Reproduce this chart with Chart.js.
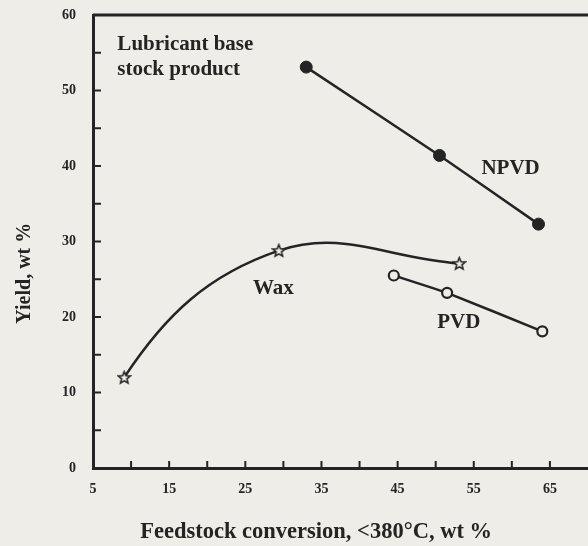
<!DOCTYPE html>
<html>
<head>
<meta charset="utf-8">
<script src="https://cdn.jsdelivr.net/npm/chart.js@4.4.0/dist/chart.umd.min.js"></script>
<style>
  html, body { margin: 0; padding: 0; background: #eeede7; overflow: hidden; }
  #chart { display: block; }
</style>
</head>
<body>
<canvas id="chart" width="588" height="546"></canvas>
<script>
(function() {
  'use strict';

  // ---- data ----
  const npvdX = [33, 50.5, 63.5];
  const npvdY = [53.1, 41.4, 32.3];
  const pvdX = [44.5, 51.5, 64];
  const pvdY = [25.5, 23.2, 18.1];
  const waxX = [9.1, 29.4, 53.1];
  const waxY = [12.0, 28.8, 27.1];

  const xLabels = [5, 15, 25, 35, 45, 55, 65];
  const yLabels = [0, 10, 20, 30, 40, 50, 60];

  // in-plot text, anchored in data units
  const notes = [
    { text: 'Lubricant base', x: 8.2, y: 55.4 },
    { text: 'stock product', x: 8.2, y: 52.0 },
    { text: 'NPVD', x: 56.0, y: 38.9 },
    { text: 'Wax', x: 26.0, y: 23.1 },
    { text: 'PVD', x: 50.2, y: 18.5 }
  ];

  const X_MAX = 70;
  const INK = '#242424';
  const PAPER = '#eeede7';
  const SERIF = '"Liberation Serif", "DejaVu Serif", serif';

  const pairs = (xs, ys) => xs.map((x, i) => ({ x: x, y: ys[i] }));

  // open five-point star marker
  function makeStar(size) {
    const c = document.createElement('canvas');
    c.width = size; c.height = size;
    const g = c.getContext('2d');
    const cx = size / 2, cy = size / 2 + 0.5;
    const ro = size / 2 - 1.2, ri = ro * 0.45;
    g.beginPath();
    for (let i = 0; i < 10; i++) {
      const r = i % 2 ? ri : ro;
      const a = -Math.PI / 2 + i * Math.PI / 5;
      const px = cx + r * Math.cos(a), py = cy + r * Math.sin(a);
      i ? g.lineTo(px, py) : g.moveTo(px, py);
    }
    g.closePath();
    g.fillStyle = PAPER;
    g.fill();
    g.lineWidth = 1.6;
    g.strokeStyle = INK;
    g.stroke();
    return c;
  }

  const paperBg = {
    id: 'paperBg',
    beforeDraw(chart) {
      const ctx = chart.ctx;
      ctx.save();
      ctx.fillStyle = PAPER;
      ctx.fillRect(0, 0, chart.width, chart.height);
      ctx.restore();
    }
  };

  // the drawn wax curve leaves its first point more steeply than the default spline
  const waxArc = {
    id: 'waxArc',
    beforeDatasetDraw(chart, args) {
      if (args.index !== 2) return;
      const line = args.meta.dataset;
      line.updateControlPoints(chart.chartArea, 'x');
      const p = args.meta.data;
      p[0].cp2x = p[0].x + 0.27 * (p[1].x - p[0].x);
      p[0].cp2y = p[0].y + 0.5 * (p[1].y - p[0].y);
    }
  };

  const frame = {
    id: 'frame',
    afterDraw(chart) {
      const { ctx, chartArea: a, scales: { x, y } } = chart;
      ctx.save();
      ctx.strokeStyle = INK;

      // top border
      ctx.lineWidth = 3;
      ctx.beginPath();
      ctx.moveTo(a.left, a.top);
      ctx.lineTo(a.right, a.top);
      ctx.stroke();

      // inward tick marks
      ctx.lineWidth = 2;
      ctx.beginPath();
      for (let v = 10; v <= 65; v += 5) {
        const px = x.getPixelForValue(v);
        ctx.moveTo(px, a.bottom);
        ctx.lineTo(px, a.bottom - 7);
      }
      for (let v = 5; v <= 55; v += 5) {
        const py = y.getPixelForValue(v);
        ctx.moveTo(a.left, py);
        ctx.lineTo(a.left + 8, py);
      }
      ctx.stroke();

      // notes
      ctx.fillStyle = INK;
      ctx.font = 'bold 21px ' + SERIF;
      ctx.textBaseline = 'alphabetic';
      ctx.textAlign = 'left';
      notes.forEach(n => {
        ctx.fillText(n.text, x.getPixelForValue(n.x), y.getPixelForValue(n.y));
      });

      // axis titles
      ctx.textAlign = 'center';
      ctx.font = 'bold 22.5px ' + SERIF;
      ctx.fillText('Feedstock conversion, <380°C, wt %', x.getPixelForValue(34.3), 538);
      ctx.save();
      ctx.translate(30, y.getPixelForValue(25.8));
      ctx.rotate(-Math.PI / 2);
      ctx.font = 'bold 20px ' + SERIF;
      ctx.fillText('Yield, wt %', 0, 0);
      ctx.restore();

      ctx.restore();
    }
  };

  const tickFont = { family: SERIF, size: 14, weight: 'bold' };

  new Chart(document.getElementById('chart'), {
    type: 'scatter',
    data: {
      datasets: [
        {
          label: 'NPVD',
          data: pairs(npvdX, npvdY),
          showLine: true,
          tension: 0.2,
          borderColor: INK,
          borderWidth: 2.5,
          pointStyle: 'circle',
          pointRadius: 6,
          pointBackgroundColor: INK,
          pointBorderColor: INK,
          pointBorderWidth: 1
        },
        {
          label: 'PVD',
          data: pairs(pvdX, pvdY),
          showLine: true,
          tension: 0.1,
          borderColor: INK,
          borderWidth: 2.5,
          pointStyle: 'circle',
          pointRadius: 5,
          pointBackgroundColor: PAPER,
          pointBorderColor: INK,
          pointBorderWidth: 2.2
        },
        {
          label: 'Wax',
          data: pairs(waxX, waxY),
          showLine: true,
          tension: 0.4,
          borderColor: INK,
          borderWidth: 2.5,
          pointStyle: makeStar(15)
        }
      ]
    },
    options: {
      responsive: false,
      animation: false,
      layout: { autoPadding: false, padding: { top: 15, right: 0, left: 0, bottom: 0 } },
      plugins: {
        legend: { display: false },
        tooltip: { enabled: false }
      },
      scales: {
        x: {
          type: 'linear',
          min: 5,
          max: X_MAX,
          afterBuildTicks(scale) {
            scale.ticks = xLabels.concat([X_MAX]).map(v => ({ value: v }));
          },
          afterFit(scale) {
            scale.height = 78;
            scale.paddingLeft = 0;
            scale.paddingRight = 0;
          },
          ticks: {
            color: INK,
            font: tickFont,
            padding: 13,
            maxRotation: 0,
            autoSkip: false,
            callback: v => (v === X_MAX ? '' : v)
          },
          grid: { display: true, drawOnChartArea: false, drawTicks: false },
          border: { display: true, color: INK, width: 3 }
        },
        y: {
          type: 'linear',
          min: 0,
          max: 60,
          afterBuildTicks(scale) {
            scale.ticks = yLabels.map(v => ({ value: v }));
          },
          afterFit(scale) {
            scale.width = 93;
            scale.paddingTop = 0;
            scale.paddingBottom = 0;
          },
          ticks: {
            color: INK,
            font: tickFont,
            padding: 17,
            autoSkip: false
          },
          grid: { display: true, drawOnChartArea: false, drawTicks: false },
          border: { display: true, color: INK, width: 3 }
        }
      }
    },
    plugins: [paperBg, waxArc, frame]
  });
})();
</script>
</body>
</html>
